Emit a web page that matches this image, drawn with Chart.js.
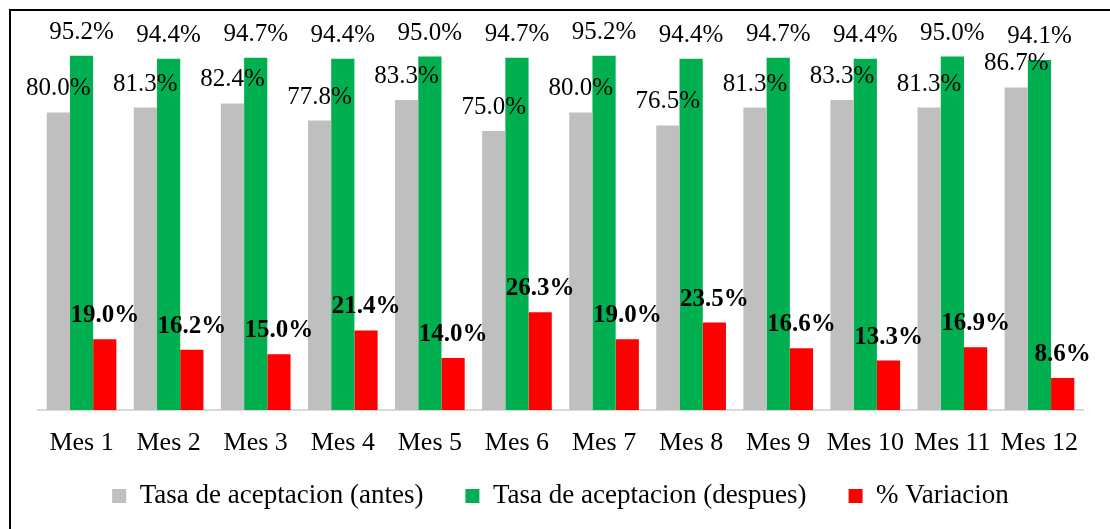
<!DOCTYPE html>
<html>
<head>
<meta charset="utf-8">
<script src="https://cdn.jsdelivr.net/npm/chart.js@4.4.1/dist/chart.umd.min.js"></script>
<style>
  body { margin: 0; background: #fff; }
  #wrap { position: relative; width: 1110px; height: 529px; }
  #frame { position: absolute; left: 9px; top: 9px; right: -4px; bottom: -4px;
           border-left: 2px solid #000; border-top: 2px solid #000; }
  canvas { position: absolute; left: 0; top: 0; }
</style>
</head>
<body>
<div id="wrap">
  <div id="frame"></div>
  <canvas id="chart" width="1110" height="529"></canvas>
</div>
<script>
// Datos
const meses = ["Mes 1", "Mes 2", "Mes 3", "Mes 4", "Mes 5", "Mes 6",
               "Mes 7", "Mes 8", "Mes 9", "Mes 10", "Mes 11", "Mes 12"];
const tasaAntes = [80.0, 81.3, 82.4, 77.8, 83.3, 75.0, 80.0, 76.5, 81.3, 83.3, 81.3, 86.7];
const tasaDespues = [95.2, 94.4, 94.7, 94.4, 95.0, 94.7, 95.2, 94.4, 94.7, 94.4, 95.0, 94.1];
const variacion = [19.0, 16.2, 15.0, 21.4, 14.0, 26.3, 19.0, 23.5, 16.6, 13.3, 16.9, 8.6];

const FONT = "'Liberation Serif', 'Times New Roman', serif";

// etiquetas de valor encima de cada barra
const valueLabels = {
    id: "valueLabels",
    // el eje x es bajo para acercar la leyenda; se amplia su zona de recorte
    afterLayout(chart) {
        chart.scales.x.bottom = chart.height;
    },
    afterDatasetsDraw(chart) {
        const ctx = chart.ctx;
        ctx.save();
        ctx.textAlign = "center";
        ctx.textBaseline = "alphabetic";
        ctx.fillStyle = "#000";
        chart.data.datasets.forEach((ds, i) => {
            const meta = chart.getDatasetMeta(i);
            ctx.font = (i === 2 ? "bold " : "") + "25px " + FONT;
            meta.data.forEach((bar, j) => {
                ctx.fillText(ds.data[j].toFixed(1) + "%", bar.x, bar.y - 17);
            });
        });
        ctx.restore();
    }
};

new Chart(document.getElementById("chart"), {
    type: "bar",
    data: {
        labels: meses,
        datasets: [
            { label: "Tasa de aceptacion (antes)", data: tasaAntes, backgroundColor: "#BFBFBF" },
            { label: "Tasa de aceptacion (despues)", data: tasaDespues, backgroundColor: "#00B050" },
            { label: "% Variacion", data: variacion, backgroundColor: "#FF0000" }
        ]
    },
    options: {
        responsive: false,
        animation: false,
        datasets: { bar: { categoryPercentage: 0.8, barPercentage: 1.0 } },
        layout: { padding: { left: 38, right: 27, top: 38, bottom: 9.5 } },
        scales: {
            x: {
                grid: { display: false },
                border: { display: true, color: "#D9D9D9", width: 2 },
                ticks: { color: "#000", padding: 10, font: { family: FONT, size: 26 } },
                afterFit: (scale) => { scale.height = 30.5; }
            },
            y: { display: false, min: 0, max: 100 }
        },
        plugins: {
            legend: {
                position: "bottom",
                labels: {
                    color: "#000",
                    boxWidth: 14,
                    boxHeight: 14,
                    padding: 42,
                    font: { family: FONT, size: 27 }
                }
            },
            tooltip: { enabled: false }
        }
    },
    plugins: [valueLabels]
});
</script>
</body>
</html>
